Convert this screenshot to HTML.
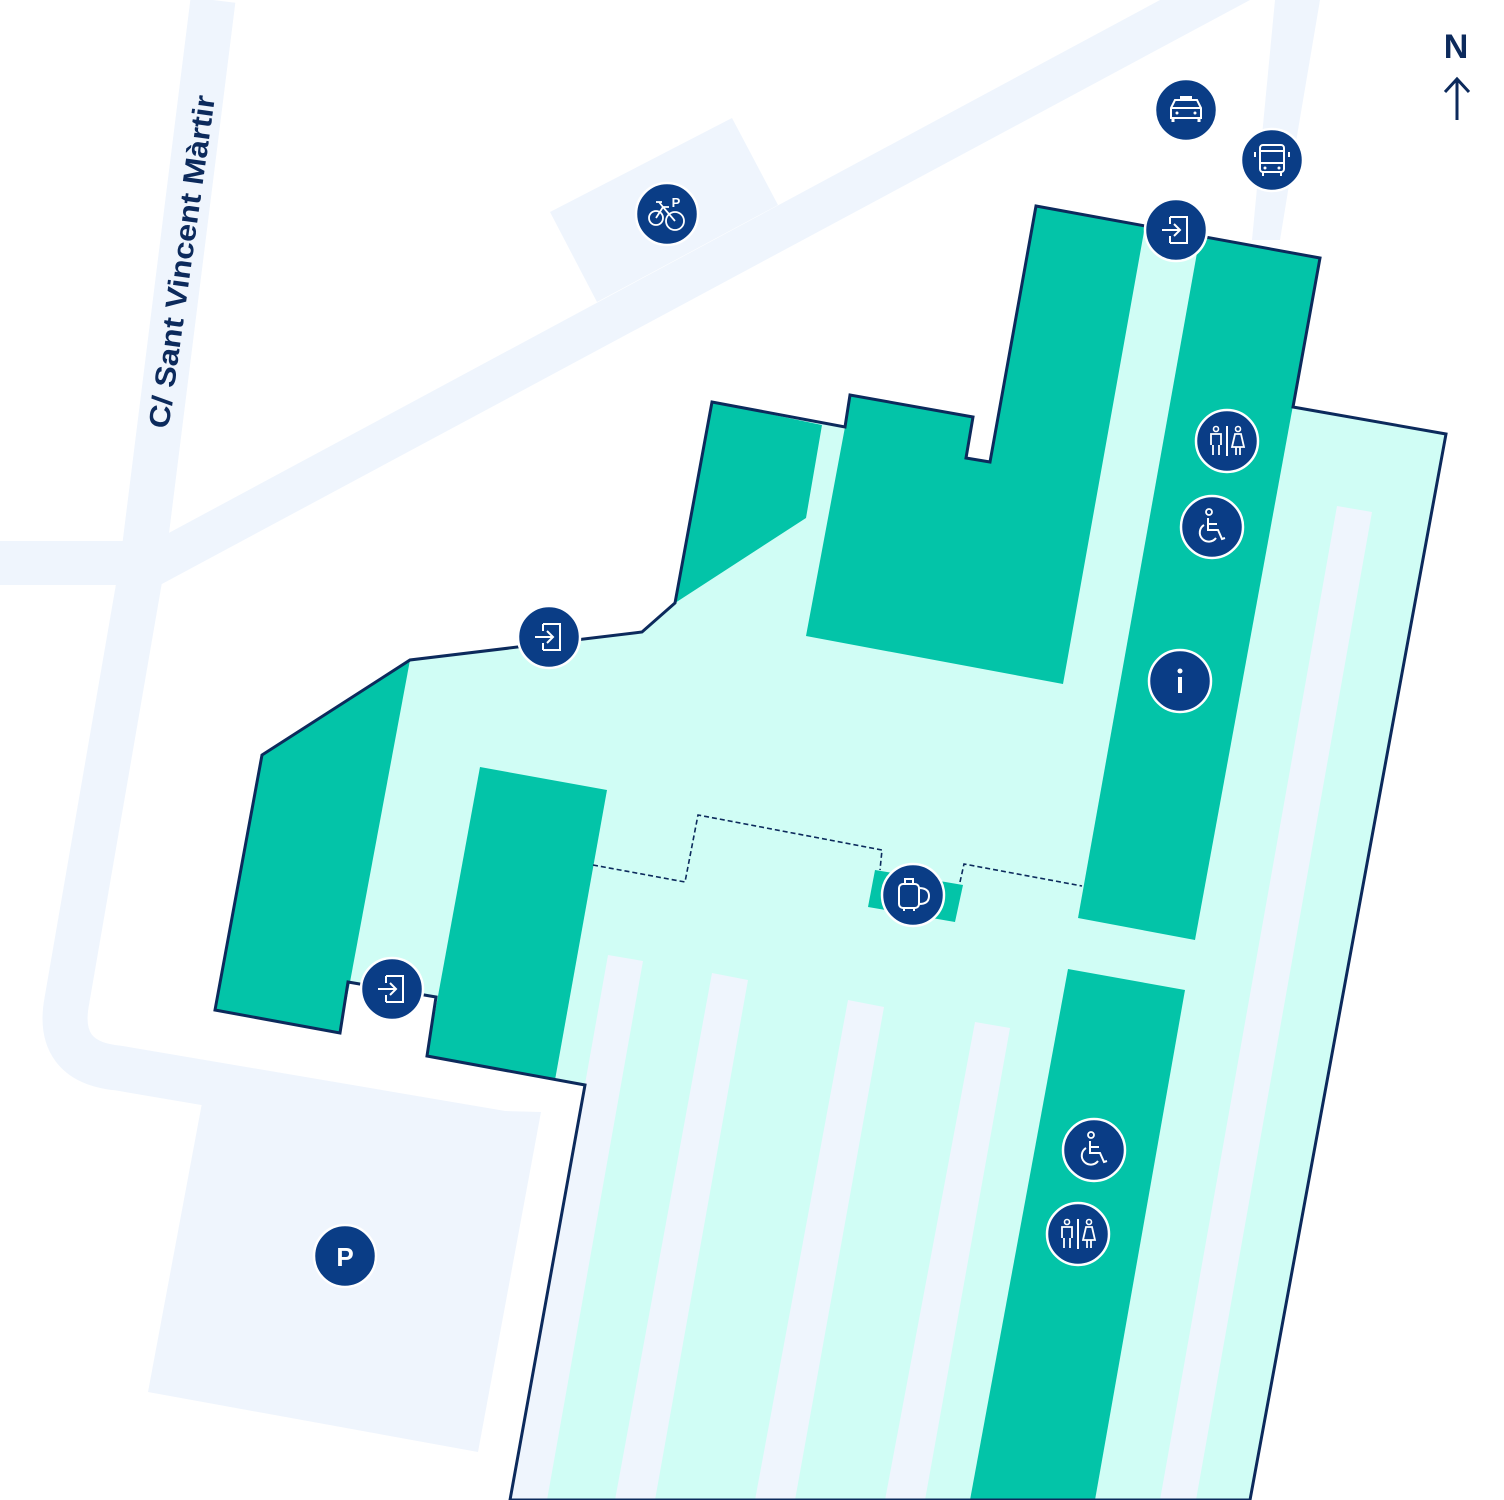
<!DOCTYPE html>
<html><head><meta charset="utf-8"><style>html,body{margin:0;padding:0;background:#fff}svg{display:block}</style></head>
<body>
<svg width="1504" height="1500" viewBox="0 0 1504 1500" xmlns="http://www.w3.org/2000/svg">
<defs>
<g id="circ"><circle r="31" fill="#0a3d86" stroke="#fff" stroke-width="2.5"/></g>
<g id="ent"><use href="#circ"/><path d="M-6,-13 H11 V13 H-6 M-6,-13 V-6 M-6,6 V13" fill="none" stroke="#fff" stroke-width="2"/><path d="M-14,0 H4 M-2,-6 L4,0 L-2,6" fill="none" stroke="#fff" stroke-width="2"/></g>
<g id="wc"><use href="#circ"/><line x1="0" y1="-15" x2="0" y2="15" stroke="#fff" stroke-width="2"/><circle cx="-11" cy="-12" r="2.5" fill="none" stroke="#fff" stroke-width="1.6"/><circle cx="11" cy="-12" r="2.5" fill="none" stroke="#fff" stroke-width="1.6"/><path d="M-16,4 V-7 H-6 V4 M-14,4 V14 M-8,4 V14" fill="none" stroke="#fff" stroke-width="1.8"/><path d="M8,-7 H14 L17,6 H5 Z M9,6 V14 M13,6 V14" fill="none" stroke="#fff" stroke-width="1.8"/></g>
<g id="wh"><use href="#circ"/><circle cx="-3" cy="-15" r="3" fill="none" stroke="#fff" stroke-width="1.8"/><path d="M-4,-9 V3 H6 L10,12 L13,11 M-3,-3 H5" fill="none" stroke="#fff" stroke-width="2"/><path d="M-8,-2 A9,9 0 1 0 4,11" fill="none" stroke="#fff" stroke-width="2"/></g>
</defs>
<g fill="#eff5fd">
<polygon points="165,535 1160,0 1250,0 160,585"/>
<polygon points="550,212 732,118 778,205 597,302"/>
<polygon points="1275,0 1320,0 1298,130 1280,240 1252,240"/>
<polygon points="202,1103 541,1112 478,1452 148,1392"/>
<rect x="0" y="541" width="130" height="44"/>
</g>
<path d="M213,0 L143,560 L67,1000 Q55,1062 118,1068 L518,1136" fill="none" stroke="#eff5fd" stroke-width="45" stroke-linejoin="round"/>
<polygon points="1036,206 1320,258 1293,407 1446,434 1250,1500 510,1500 585,1085 427,1056 436,997 348,982 340,1033 215,1010 262,755 410,660 642,632 675,603 712,402 845,427 850,395 973,417 966,458 990,462" fill="#d0fdf5"/>
<g fill="#eff5fd">
<polygon points="608,955 643,961 547,1500 511,1500"/>
<polygon points="712,973 748,980 655,1500 615,1500"/>
<polygon points="848,1000 884,1007 795,1500 755,1500"/>
<polygon points="975,1022 1010,1028 925,1500 885,1500"/>
<polygon points="1337,506 1372,512 1196,1500 1160,1500"/>
</g>
<g fill="#03c4a8">
<polygon points="262,755 410,660 350,982 340,1033 215,1010"/>
<polygon points="480,767 607,790 555,1080 427,1056"/>
<polygon points="712,402 822,425 806,518 675,603"/>
<polygon points="850,395 973,417 966,458 990,462 1036,206 1145,226 1063,684 806,636 845,427"/>
<polygon points="1200,236 1320,258 1195,940 1078,918"/>
<polygon points="1068,969 1185,990 1095,1500 970,1500"/>
<polygon points="875,870 963,885 955,922 868,907"/>
</g>
<polygon points="1036,206 1320,258 1293,407 1446,434 1250,1500 510,1500 585,1085 427,1056 436,997 348,982 340,1033 215,1010 262,755 410,660 642,632 675,603 712,402 845,427 850,395 973,417 966,458 990,462" fill="none" stroke="#0c2a5c" stroke-width="3" stroke-linejoin="miter"/>
<g fill="none" stroke="#0c2a5c" stroke-width="1.6" stroke-dasharray="5,3">
<polyline points="593,865 685,882 698,815 882,850 880,870"/>
<polyline points="960,882 964,864 1082,886"/>
</g>
<g transform="translate(1186,110)"><use href="#circ"/><path d="M-6,-14 H6 V-10 H-6 Z" fill="#fff"/><path d="M-15,8 V-2 L-11,-10 H11 L15,-2 V8 Z M-15,-2 H15" fill="none" stroke="#fff" stroke-width="2"/><path d="M-13,8 V12 M13,8 V12" stroke="#fff" stroke-width="3"/><circle cx="-9" cy="3" r="1.5" fill="#fff"/><circle cx="9" cy="3" r="1.5" fill="#fff"/></g>
<g transform="translate(1272,160)"><use href="#circ"/><rect x="-12" y="-15" width="24" height="27" rx="3" fill="none" stroke="#fff" stroke-width="2"/><path d="M-12,-9 H12 M-12,3 H12 M-17,-8 V-3 M17,-8 V-3 M-9,12 V16 M9,12 V16" stroke="#fff" stroke-width="2"/><circle cx="-7" cy="8" r="1.5" fill="#fff"/><circle cx="7" cy="8" r="1.5" fill="#fff"/></g>
<g transform="translate(667,214)"><use href="#circ"/><circle cx="-11" cy="4" r="7" fill="none" stroke="#fff" stroke-width="1.8"/><circle cx="8" cy="7" r="9" fill="none" stroke="#fff" stroke-width="1.8"/><path d="M-11,4 L-4,-7 L8,7 M-4,-7 L-8,-12 M-11,-12 H-5 M-4,-7 H2" fill="none" stroke="#fff" stroke-width="1.8"/><text x="9" y="-7" font-family="Liberation Sans, sans-serif" font-weight="bold" font-size="13" fill="#fff" text-anchor="middle">P</text></g>
<g transform="translate(1176,230)"><use href="#ent"/></g>
<g transform="translate(549,637)"><use href="#ent"/></g>
<g transform="translate(392,989)"><use href="#ent"/></g>
<g transform="translate(1227,441)"><use href="#wc"/></g>
<g transform="translate(1078,1234)"><use href="#wc"/></g>
<g transform="translate(1212,527)"><use href="#wh"/></g>
<g transform="translate(1094,1150)"><use href="#wh"/></g>
<g transform="translate(1180,681)"><use href="#circ"/><circle cx="0" cy="-10" r="2.5" fill="#fff"/><rect x="-2" y="-4" width="4" height="16" fill="#fff"/></g>
<g transform="translate(913,895)"><use href="#circ"/><rect x="-14" y="-11" width="20" height="24" rx="4" fill="none" stroke="#fff" stroke-width="2"/><path d="M-8,-11 V-16 H0 V-11 M6,-7 Q16,-7 16,1 Q16,9 6,9 M-9,13 V16 M1,13 V16" fill="none" stroke="#fff" stroke-width="2"/></g>
<g transform="translate(345,1256)"><use href="#circ"/><text x="0" y="10" font-family="Liberation Sans, sans-serif" font-weight="bold" font-size="26" fill="#fff" text-anchor="middle">P</text></g>
<text x="1456" y="58" font-family="Liberation Sans, sans-serif" font-weight="bold" font-size="34" fill="#0c2a5c" text-anchor="middle">N</text>
<path d="M1457,120 V80 M1445,92 L1457,79 L1469,92" fill="none" stroke="#0c2a5c" stroke-width="3"/>
<text transform="translate(184,262) rotate(-82)" font-family="Liberation Sans, sans-serif" font-weight="bold" font-size="29" fill="#0c2a5c" text-anchor="middle" dominant-baseline="middle" textLength="336" lengthAdjust="spacingAndGlyphs">C/ Sant Vincent Màrtir</text>
</svg>
</body></html>
